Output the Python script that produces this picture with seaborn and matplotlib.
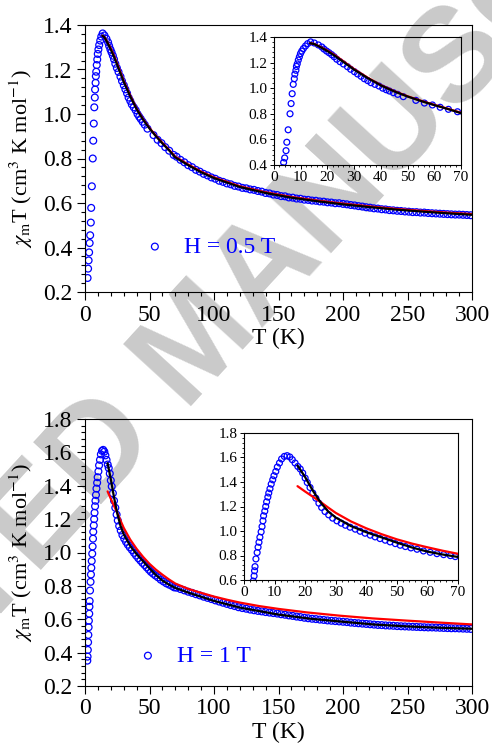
import matplotlib
matplotlib.use("Agg")
import matplotlib.pyplot as plt
import seaborn as sns
from matplotlib.ticker import MultipleLocator, FormatStrFormatter

# ---- data ----
# H = 0.5 T : measured chi_m T
t_05 = [2.0, 2.4, 2.8, 3.2, 3.6, 4.0, 4.5, 4.8, 5.3, 6.0,
        6.4, 6.8, 7.2, 7.6, 7.8, 8.2, 8.4, 8.7, 9.1, 9.5,
        9.9, 10.4, 11.0, 11.8, 12.6, 13.7, 15.1, 16.6, 17.9, 18.7,
        19.7, 20.6, 21.6, 22.5, 23.5, 24.7, 26.0, 27.5, 28.7, 30.1,
        31.3, 32.6, 33.8, 35.1, 36.3, 37.8, 39.3, 40.7, 42.0, 43.2,
        44.7, 46.3, 48.4, 53.1, 56.3, 59.3, 62.2, 65.3, 68.7,
        71, 74, 77, 80, 83, 86, 89, 92, 95, 98,
        101, 104, 107, 110, 113, 116, 119, 122, 125, 128,
        131, 134, 137, 140, 143, 146, 149, 152, 155, 158,
        161, 164, 167, 170, 173, 176, 179, 182, 185, 188,
        191, 194, 197, 200, 203, 206, 209, 212, 215, 218,
        221, 224, 227, 230, 233, 236, 239, 242, 245, 248,
        251, 254, 257, 260, 263, 266, 269, 272, 275, 278,
        281, 284, 287, 290, 293, 296, 299]
chi_05 = [0.263, 0.305, 0.342, 0.378, 0.420, 0.455, 0.512, 0.578, 0.675, 0.800,
          0.880, 0.957, 1.030, 1.074, 1.110, 1.140, 1.170, 1.190, 1.220, 1.245,
          1.270, 1.290, 1.310, 1.330, 1.348, 1.362, 1.353, 1.338, 1.322, 1.306,
          1.290, 1.277, 1.262, 1.246, 1.226, 1.207, 1.189, 1.168, 1.148, 1.129,
          1.111, 1.093, 1.074, 1.059, 1.043, 1.030, 1.017, 1.000, 0.988, 0.978,
          0.965, 0.952, 0.934, 0.905, 0.884, 0.869, 0.851, 0.835, 0.816,
          0.808, 0.794, 0.783, 0.770, 0.761, 0.749, 0.741, 0.731, 0.724, 0.715,
          0.709, 0.700, 0.695, 0.688, 0.684, 0.677, 0.674, 0.668, 0.666, 0.661,
          0.659, 0.654, 0.651, 0.645, 0.643, 0.638, 0.636, 0.631, 0.630, 0.625,
          0.624, 0.620, 0.619, 0.615, 0.614, 0.611, 0.610, 0.607, 0.606, 0.603,
          0.602, 0.599, 0.599, 0.596, 0.594, 0.591, 0.589, 0.586, 0.584, 0.581,
          0.579, 0.576, 0.575, 0.572, 0.571, 0.568, 0.567, 0.565, 0.564, 0.562,
          0.561, 0.559, 0.559, 0.557, 0.557, 0.555, 0.554, 0.553, 0.552, 0.551,
          0.550, 0.549, 0.548, 0.548, 0.547, 0.546, 0.545]

# H = 0.5 T : fits (black and red almost on top of each other)
fit_t_05 = [13.5, 15, 17, 20, 23, 26, 30, 35, 40, 45, 50, 55, 60, 65, 70,
            80, 90, 100, 120, 140, 160, 180, 200, 220, 240, 260, 280, 300]
black_05 = [1.352, 1.345, 1.325, 1.290, 1.250, 1.205, 1.145, 1.080, 1.022, 0.975,
            0.935, 0.900, 0.868, 0.838, 0.805, 0.770, 0.738, 0.712, 0.672, 0.645,
            0.624, 0.608, 0.594, 0.582, 0.571, 0.562, 0.554, 0.547]
red_05 = [1.352, 1.346, 1.327, 1.294, 1.255, 1.210, 1.149, 1.083, 1.024, 0.977,
          0.937, 0.902, 0.870, 0.840, 0.808, 0.773, 0.741, 0.715, 0.675, 0.648,
          0.627, 0.611, 0.597, 0.585, 0.574, 0.565, 0.557, 0.550]

# H = 1 T : measured chi_m T
t_1 = [1.8, 2.0, 2.2, 2.4, 2.6, 2.8, 3.0, 3.3, 3.45, 3.6,
       3.9, 4.3, 4.6, 4.9, 5.2, 5.6, 5.9, 6.2, 6.4, 6.8,
       7.1, 7.4, 7.8, 8.1, 8.5, 8.9, 9.4, 9.8, 10.4, 10.9,
       11.6, 12.3, 13.2, 14.1, 15.0, 15.8, 16.7, 17.6, 18.4, 19.2,
       20.0, 20.7, 21.6, 22.5, 23.5, 24.5, 25.4, 26.5, 27.7, 29.0,
       30.4, 31.8, 33.2, 34.7, 36.4, 38.0, 39.6, 41.3, 42.9, 44.5,
       46.2, 47.8, 49.5, 51.1, 52.8, 54.6, 56.6, 58.7, 60.9, 63.1,
       65.3, 67.5, 69.1,
       71, 74, 77, 80, 83, 86, 89, 92, 95, 98,
       101, 104, 107, 110, 113, 116, 119, 122, 125, 128,
       131, 134, 137, 140, 143, 146, 149, 152, 155, 158,
       161, 164, 167, 170, 173, 176, 179, 182, 185, 188,
       191, 194, 197, 200, 203, 206, 209, 212, 215, 218,
       221, 224, 227, 230, 233, 236, 239, 242, 245, 248,
       251, 254, 257, 260, 263, 266, 269, 272, 275, 278,
       281, 284, 287, 290, 293, 296, 299]
chi_1 = [0.352, 0.376, 0.416, 0.462, 0.506, 0.552, 0.591, 0.633, 0.675, 0.709,
         0.772, 0.824, 0.868, 0.908, 0.949, 0.993, 1.036, 1.083, 1.124, 1.162,
         1.200, 1.238, 1.277, 1.310, 1.345, 1.383, 1.418, 1.451, 1.486, 1.522,
         1.555, 1.588, 1.609, 1.615, 1.604, 1.582, 1.555, 1.527, 1.506, 1.473,
         1.432, 1.396, 1.355, 1.310, 1.268, 1.227, 1.192, 1.159, 1.132, 1.105,
         1.083, 1.064, 1.047, 1.031, 1.015, 0.998, 0.982, 0.966, 0.952, 0.938,
         0.925, 0.911, 0.897, 0.884, 0.873, 0.862, 0.851, 0.837, 0.826, 0.815,
         0.807, 0.799, 0.791,
         0.789, 0.781, 0.773, 0.765, 0.758, 0.750, 0.743, 0.735, 0.728, 0.721,
         0.713, 0.706, 0.699, 0.692, 0.685, 0.679, 0.672, 0.667, 0.663, 0.658,
         0.654, 0.650, 0.647, 0.643, 0.640, 0.637, 0.634, 0.630, 0.627, 0.623,
         0.620, 0.616, 0.613, 0.609, 0.606, 0.603, 0.601, 0.598, 0.596, 0.593,
         0.591, 0.589, 0.587, 0.585, 0.583, 0.580, 0.578, 0.576, 0.574, 0.572,
         0.570, 0.568, 0.566, 0.565, 0.563, 0.562, 0.561, 0.559, 0.558, 0.557,
         0.556, 0.555, 0.554, 0.553, 0.552, 0.551, 0.551, 0.550, 0.549, 0.548,
         0.547, 0.546, 0.546, 0.545, 0.544, 0.543, 0.542]

# H = 1 T : fits
black_t_1 = [17.5, 20, 22.5, 25, 27.5, 30, 35, 40, 45, 50, 55, 60, 65, 70,
             80, 100, 120, 150, 175, 200, 225, 250, 275, 300]
black_1 = [1.535, 1.440, 1.330, 1.235, 1.160, 1.110, 1.040, 0.990, 0.948, 0.905,
           0.865, 0.832, 0.808, 0.788, 0.760, 0.710, 0.670, 0.628, 0.603, 0.585,
           0.568, 0.557, 0.549, 0.543]
red_t_1 = [17.5, 20, 25, 27.5, 30, 35, 40, 45, 50, 55, 60, 65, 70,
           80, 90, 100, 110, 120, 135, 150, 172, 198, 223, 249, 275, 300]
red_1 = [1.366, 1.322, 1.238, 1.192, 1.148, 1.078, 1.022, 0.974, 0.932, 0.897,
         0.867, 0.839, 0.814, 0.782, 0.758, 0.736, 0.717, 0.700, 0.679, 0.662,
         0.641, 0.621, 0.605, 0.592, 0.580, 0.569]

# ---- style ----
sns.set_style("ticks", rc={"axes.edgecolor": "black", "xtick.color": "black",
                           "ytick.color": "black", "text.color": "black",
                           "axes.labelcolor": "black"})
plt.rcParams["font.family"] = ["Liberation Serif", "DejaVu Serif"]
plt.rcParams["mathtext.fontset"] = "stix"

W, H = 492, 746
fig = plt.figure(figsize=(W / 100, H / 100), dpi=100)

# watermark behind everything
fig.text(200 / W, 1 - 345 / H, "ACCEPTED MANUSCRIPT", rotation=47.5,
         rotation_mode="anchor", ha="center", va="center", fontsize=96,
         fontweight="bold", family="Liberation Sans", color="#cacaca",
         zorder=-5)


def box(l, t, r, b):
    return [l / W, 1 - b / H, (r - l) / W, (b - t) / H]


def style_axes(ax, big):
    ax.set_facecolor("none")
    for s in ax.spines.values():
        s.set_linewidth(0.8)
        s.set_color("black")
    if big:
        ax.tick_params(which="major", direction="out", length=6, width=0.8,
                       labelsize=17, pad=3)
        ax.tick_params(which="minor", direction="out", length=3, width=0.8)
    else:
        ax.tick_params(which="major", direction="out", length=3, width=0.7,
                       labelsize=11, pad=1.5)
        ax.tick_params(which="minor", direction="out", length=1.5, width=0.6)


def draw(ax, t, chi, bt, bl, rt, rd, big, label=None):
    ms = 24 if big else 18
    sns.scatterplot(x=t, y=chi, ax=ax, marker="o", s=ms, facecolor="none",
                    edgecolor="blue", linewidth=0.9, legend=False, zorder=2,
                    label=label)
    sns.lineplot(x=rt, y=rd, ax=ax, color="red", linewidth=1.6,
                 estimator=None, sort=False, zorder=3)
    sns.lineplot(x=bt, y=bl, ax=ax, color="black", linewidth=1.6,
                 estimator=None, sort=False, zorder=4)


ylab = r"$\chi_{\mathrm{m}}$T (cm$^3$ K mol$^{-1}$)"

panels = [
    dict(main=box(85, 25, 472, 292), ins=box(274, 37, 461, 165),
         t=t_05, chi=chi_05, bt=fit_t_05, bl=black_05, rt=fit_t_05, rd=red_05,
         ylim=(0.2, 1.4), ylim_in=(0.4, 1.4), label="H = 0.5 T",
         leg=(0.150, 0.1685)),
    dict(main=box(85, 419, 472, 686), ins=box(244, 433, 458, 580),
         t=t_1, chi=chi_1, bt=black_t_1, bl=black_1, rt=red_t_1, rd=red_1,
         ylim=(0.2, 1.8), ylim_in=(0.6, 1.8), label="H = 1 T",
         leg=(0.132, 0.112)),
]

for p in panels:
    ax = fig.add_axes(p["main"])
    draw(ax, p["t"], p["chi"], p["bt"], p["bl"], p["rt"], p["rd"], True,
         label=p["label"])
    ax.set_xlim(0, 300)
    ax.set_ylim(*p["ylim"])
    ax.xaxis.set_major_locator(MultipleLocator(50))
    ax.xaxis.set_minor_locator(MultipleLocator(10))
    ax.yaxis.set_major_locator(MultipleLocator(0.2))
    ax.yaxis.set_minor_locator(MultipleLocator(0.04))
    ax.yaxis.set_major_formatter(FormatStrFormatter("%.1f"))
    style_axes(ax, True)
    ax.set_xlabel("T (K)", fontsize=17, labelpad=2)
    ax.set_ylabel(ylab, fontsize=16, labelpad=6)
    ax.legend(loc="center left", bbox_to_anchor=p["leg"], frameon=False,
              fontsize=17, labelcolor="blue", handlelength=1.0,
              handletextpad=0.75, borderpad=0, borderaxespad=0,
              scatterpoints=1)

    ins = fig.add_axes(p["ins"])
    draw(ins, p["t"], p["chi"], p["bt"], p["bl"], p["rt"], p["rd"], False)
    ins.set_xlim(0, 70)
    ins.set_ylim(*p["ylim_in"])
    ins.xaxis.set_major_locator(MultipleLocator(10))
    ins.xaxis.set_minor_locator(MultipleLocator(2))
    ins.yaxis.set_major_locator(MultipleLocator(0.2))
    ins.yaxis.set_minor_locator(MultipleLocator(0.04))
    ins.yaxis.set_major_formatter(FormatStrFormatter("%.1f"))
    ins.set_xlabel("")
    ins.set_ylabel("")
    style_axes(ins, False)

fig.savefig("out.png", dpi=100, facecolor="white")
